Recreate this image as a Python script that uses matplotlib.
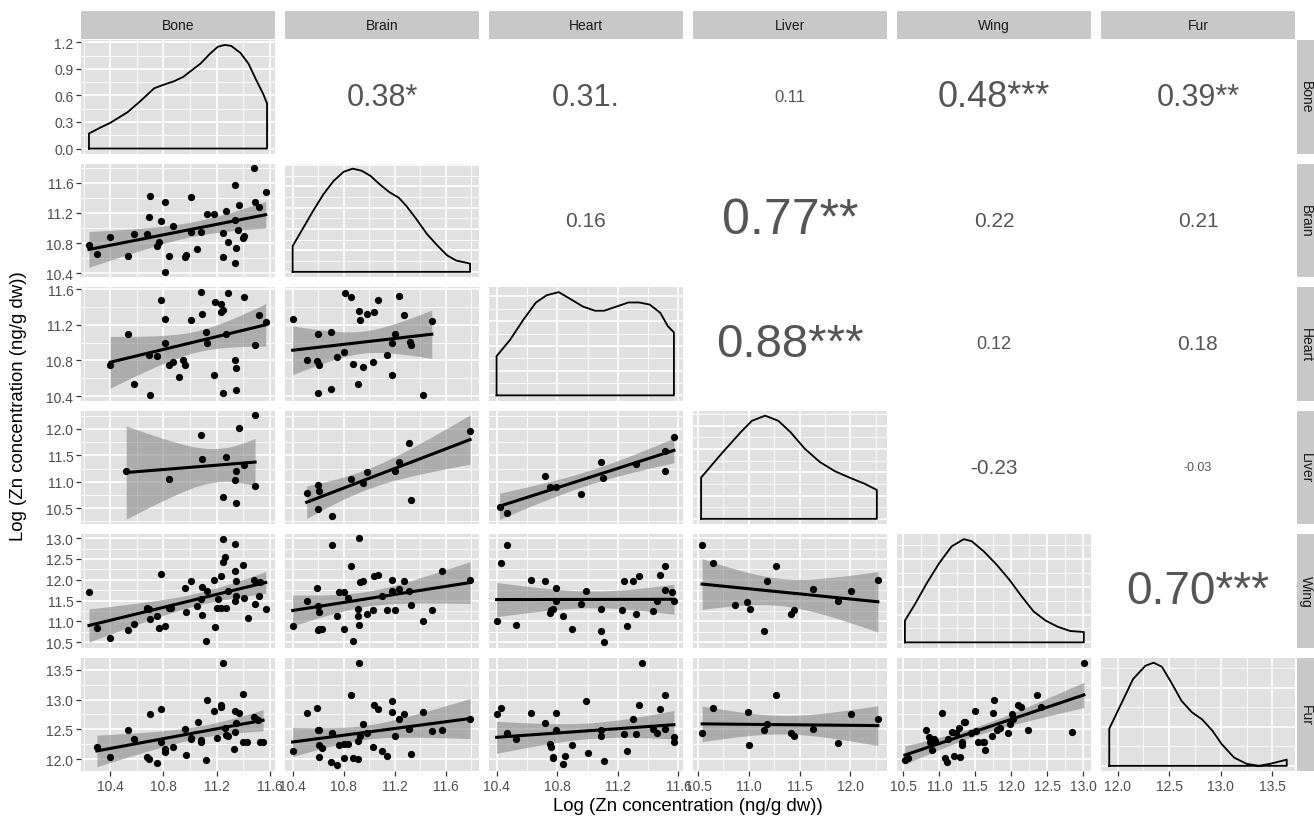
import numpy as np
import matplotlib
matplotlib.use('Agg')
import matplotlib.pyplot as plt
from matplotlib.ticker import MaxNLocator

plt.rcParams['font.family'] = ['Liberation Sans', 'DejaVu Sans']

# ---------------- data ----------------
variables = ['Bone', 'Brain', 'Heart', 'Liver', 'Wing', 'Fur']
axis_title = 'Log (Zn concentration (ng/g dw))'

# scatter panels: x = column variable, y = row variable
brain_bone_x = [10.24, 10.30, 10.40, 10.53, 10.58, 10.68, 10.70, 10.69, 10.75, 10.77, 10.78, 10.81, 10.81, 10.84,
                10.87, 10.96, 10.97, 11.01, 11.01, 11.05, 11.08, 11.13, 11.18, 11.25, 11.25, 11.27, 11.29, 11.34,
                11.34, 11.35, 11.34, 11.36, 11.37, 11.40, 11.41, 11.48, 11.49, 11.52, 11.57]
brain_bone_y = [10.77, 10.65, 10.88, 10.63, 10.92, 10.92, 11.42, 11.14, 10.76, 10.82, 11.09, 11.34, 10.42, 10.63,
                11.03, 10.62, 10.64, 11.41, 10.95, 10.72, 10.95, 11.19, 11.19, 10.62, 10.93, 11.22, 10.82, 11.57,
                11.11, 10.74, 10.53, 10.97, 11.31, 10.87, 10.89, 11.80, 11.34, 11.28, 11.48]

heart_bone_x = [10.40, 10.53, 10.58, 10.70, 10.69, 10.75, 10.78, 10.81, 10.81, 10.84, 10.87, 10.95, 10.96, 10.92,
                11.01, 11.08, 11.09, 11.12, 11.13, 11.18, 11.19, 11.23, 11.23, 11.25, 11.25, 11.27, 11.29, 11.34,
                11.35, 11.35, 11.41, 11.49, 11.52, 11.57]
heart_bone_y = [10.75, 11.10, 10.54, 10.41, 10.86, 10.85, 11.48, 11.26, 11.00, 10.75, 10.78, 10.80, 10.75, 10.61,
                11.25, 11.57, 11.32, 11.12, 11.00, 10.64, 11.46, 11.43, 11.34, 11.37, 10.43, 11.10, 11.56, 10.80,
                10.72, 10.47, 11.51, 10.97, 11.31, 11.23]

liver_bone_x = [10.52, 10.84, 11.08, 11.09, 11.27, 11.25, 11.35, 11.34, 11.37, 11.41, 11.35, 11.49, 11.49]
liver_bone_y = [11.20, 11.06, 11.89, 11.43, 11.46, 10.71, 11.21, 11.04, 12.02, 11.32, 10.60, 12.27, 10.92]

wing_bone_x = [10.24, 10.30, 10.40, 10.53, 10.58, 10.68, 10.69, 10.70, 10.75, 10.77, 10.78, 10.81, 10.84, 10.86,
               10.96, 10.97, 11.01, 11.05, 11.08, 11.09, 11.09, 11.12, 11.13, 11.18, 11.19, 11.20, 11.21, 11.23,
               11.23, 11.25, 11.25, 11.26, 11.27, 11.29, 11.34, 11.34, 11.35, 11.34, 11.35, 11.40, 11.41, 11.44,
               11.48, 11.49, 11.52, 11.53, 11.57]
wing_bone_y = [11.70, 10.85, 10.61, 10.80, 10.94, 11.32, 11.30, 11.06, 11.14, 10.85, 12.13, 10.90, 11.32, 11.32,
               11.80, 11.22, 11.96, 11.37, 11.54, 11.82, 11.16, 10.54, 11.73, 12.00, 10.86, 11.32, 11.53, 12.09,
               11.33, 12.98, 12.42, 12.54, 11.33, 11.74, 12.85, 12.22, 11.97, 11.48, 11.62, 12.36, 11.57, 11.08,
               12.00, 11.42, 11.62, 11.94, 11.30]

fur_bone_x = [10.30, 10.40, 10.53, 10.58, 10.68, 10.69, 10.70, 10.75, 10.78, 10.78, 10.81, 10.81, 10.87, 10.96,
              10.97, 11.01, 11.01, 11.08, 11.08, 11.06, 11.12, 11.13, 11.18, 11.20, 11.23, 11.23, 11.25, 11.26,
              11.27, 11.29, 11.33, 11.34, 11.35, 11.34, 11.37, 11.40, 11.40, 11.43, 11.48, 11.50, 11.53, 11.55,
              11.51]
fur_bone_y = [12.21, 12.03, 12.49, 12.33, 12.03, 12.00, 12.76, 11.93, 12.84, 12.28, 12.12, 12.17, 12.21, 12.50,
              12.07, 12.35, 12.34, 12.28, 12.32, 12.62, 11.98, 12.99, 12.80, 12.35, 12.91, 12.88, 13.62, 12.52,
              12.40, 12.38, 12.17, 12.80, 12.60, 12.45, 12.77, 13.10, 12.28, 12.28, 12.70, 12.67, 12.28, 12.28,
              12.65]

heart_brain_x = [10.40, 10.51, 10.59, 10.60, 10.61, 10.60, 10.70, 10.70, 10.75, 10.80, 10.81, 10.86, 10.87, 10.91,
                 10.92, 10.93, 10.95, 10.98, 11.03, 11.04, 11.07, 11.14, 11.18, 11.18, 11.20, 11.23, 11.27, 11.32,
                 11.33, 11.42, 11.49]
heart_brain_y = [11.26, 10.80, 10.79, 11.10, 10.75, 10.43, 11.12, 10.48, 10.84, 10.90, 11.56, 11.51, 10.76, 10.54,
                 11.36, 11.25, 10.73, 11.32, 10.78, 11.34, 11.48, 10.86, 10.64, 11.00, 11.10, 11.52, 11.31, 11.01,
                 10.97, 10.41, 11.24]

liver_brain_x = [10.51, 10.60, 10.61, 10.60, 10.71, 10.86, 10.95, 10.98, 11.20, 11.23, 11.31, 11.33, 11.79]
liver_brain_y = [10.79, 10.94, 10.82, 10.48, 10.36, 11.06, 10.98, 11.18, 11.21, 11.38, 11.74, 10.66, 11.97]

wing_brain_x = [10.40, 10.51, 10.59, 10.60, 10.61, 10.60, 10.61, 10.63, 10.71, 10.75, 10.76, 10.80, 10.80, 10.83,
                10.86, 10.87, 10.91, 10.91, 10.92, 10.92, 10.93, 10.95, 10.98, 11.03, 11.04, 11.07, 11.10, 11.14,
                11.18, 11.18, 11.20, 11.23, 11.27, 11.31, 11.33, 11.42, 11.49, 11.57, 11.79]
wing_brain_y = [10.88, 11.48, 11.80, 11.36, 11.22, 10.80, 10.82, 10.82, 12.84, 11.12, 11.70, 11.70, 10.82, 11.56,
                12.34, 10.54, 11.30, 11.12, 13.00, 10.92, 11.94, 11.96, 11.18, 11.28, 12.08, 12.12, 11.62, 11.28,
                12.00, 11.72, 11.28, 11.78, 11.96, 11.72, 11.40, 11.02, 11.28, 12.22, 12.00]

fur_brain_x = [10.40, 10.51, 10.59, 10.60, 10.61, 10.61, 10.63, 10.61, 10.70, 10.71, 10.75, 10.76, 10.80, 10.80,
               10.83, 10.86, 10.87, 10.91, 10.91, 10.92, 10.93, 10.95, 10.98, 11.03, 11.04, 11.07, 11.10, 11.14,
               11.18, 11.18, 11.20, 11.23, 11.27, 11.31, 11.33, 11.42, 11.49, 11.57, 11.79]
fur_brain_y = [12.14, 12.77, 12.86, 12.49, 12.48, 12.24, 12.19, 12.04, 11.95, 12.44, 11.90, 12.24, 12.25, 12.01,
               12.25, 13.08, 12.01, 12.00, 12.30, 13.62, 12.39, 12.59, 12.44, 12.20, 12.90, 12.84, 12.14, 12.06,
               12.98, 12.79, 12.39, 12.67, 12.76, 12.51, 12.09, 12.79, 12.47, 12.48, 12.67]

liver_heart_x = [10.42, 10.47, 10.72, 10.75, 10.79, 10.96, 11.09, 11.10, 11.32, 11.51, 11.51, 11.57]
liver_heart_y = [10.53, 10.41, 11.10, 10.91, 10.91, 10.76, 11.38, 11.07, 11.34, 11.20, 11.59, 11.84]

wing_heart_x = [10.40, 10.43, 10.47, 10.53, 10.63, 10.72, 10.75, 10.76, 10.77, 10.79, 10.79, 10.84, 10.90, 10.96,
                10.99, 11.09, 11.09, 11.11, 11.23, 11.24, 11.26, 11.30, 11.32, 11.34, 11.43, 11.46, 11.48, 11.51,
                11.51, 11.56, 11.57]
wing_heart_y = [11.02, 12.41, 12.84, 10.92, 12.00, 11.97, 11.20, 11.28, 11.30, 11.80, 11.48, 11.12, 10.82, 11.42,
                11.74, 11.30, 10.78, 10.50, 11.28, 11.96, 10.88, 11.97, 11.18, 12.08, 11.26, 11.48, 12.12, 12.34,
                11.76, 11.70, 11.50]

fur_heart_x = [10.40, 10.43, 10.47, 10.53, 10.63, 10.72, 10.75, 10.76, 10.77, 10.77, 10.79, 10.79, 10.84, 10.85,
               10.90, 10.99, 11.00, 11.09, 11.09, 11.11, 11.24, 11.26, 11.30, 11.32, 11.34, 11.36, 11.43, 11.46,
               11.48, 11.51, 11.51, 11.57, 11.57]
fur_heart_y = [12.75, 12.86, 12.44, 12.33, 12.77, 12.60, 12.25, 12.20, 12.04, 12.01, 12.77, 12.49, 11.91, 12.06,
               12.24, 12.98, 12.10, 12.49, 12.39, 11.96, 12.42, 12.14, 12.67, 12.42, 12.90, 13.62, 12.51, 12.43,
               12.84, 13.08, 12.51, 12.37, 12.28]

wing_liver_x = [10.54, 10.65, 10.86, 10.98, 11.01, 11.15, 11.18, 11.27, 11.41, 11.44, 11.63, 11.88, 12.01, 12.27]
wing_liver_y = [12.84, 12.41, 11.40, 11.46, 11.30, 10.78, 11.96, 12.34, 11.18, 11.28, 11.77, 11.50, 11.72, 12.00]

fur_liver_x = [10.54, 10.65, 10.99, 11.00, 11.15, 11.18, 11.27, 11.41, 11.44, 11.63, 11.88, 12.01, 12.27]
fur_liver_y = [12.43, 12.86, 12.79, 12.24, 12.48, 12.59, 13.08, 12.43, 12.39, 12.51, 12.27, 12.76, 12.68]

fur_wing_x = [10.52, 10.57, 10.81, 10.86, 10.87, 10.90, 10.93, 10.94, 11.04, 11.08, 11.11, 11.12, 11.18, 11.21,
              11.23, 11.27, 11.28, 11.31, 11.32, 11.34, 11.36, 11.44, 11.49, 11.51, 11.54, 11.60, 11.62, 11.64,
              11.73, 11.74, 11.76, 11.80, 11.85, 11.95, 11.98, 12.01, 12.02, 12.09, 12.14, 12.24, 12.36, 12.42,
              12.85, 13.01]
fur_wing_y = [11.99, 12.01, 12.49, 12.37, 12.28, 12.16, 12.33, 12.30, 12.77, 12.01, 11.95, 12.33, 12.46, 12.06,
              12.44, 12.52, 12.03, 12.23, 12.28, 12.62, 12.63, 12.44, 12.80, 12.47, 12.28, 12.28, 12.28, 12.16,
              12.38, 12.77, 12.99, 12.49, 12.52, 12.44, 12.59, 12.76, 12.67, 12.91, 12.87, 12.49, 13.08, 12.87,
              12.45, 13.62]

# diagonal density curves (heights for non-first rows are relative)
bone_dens_x = [10.24, 10.33, 10.40, 10.53, 10.63, 10.73, 10.80, 10.88, 10.95, 11.01, 11.08, 11.15, 11.21, 11.26,
               11.31, 11.38, 11.44, 11.50, 11.55, 11.58]
bone_dens_y = [0.17, 0.24, 0.29, 0.41, 0.54, 0.68, 0.72, 0.76, 0.81, 0.88, 0.96, 1.07, 1.15, 1.17, 1.16, 1.08,
               0.96, 0.77, 0.62, 0.51]
brain_dens_x = [10.40, 10.48, 10.56, 10.64, 10.72, 10.80, 10.87, 10.94, 11.01, 11.08, 11.16, 11.23, 11.29, 11.37,
                11.45, 11.53, 11.61, 11.68, 11.79]
brain_dens_y = [0.25, 0.42, 0.59, 0.75, 0.88, 0.97, 1.00, 0.98, 0.93, 0.85, 0.77, 0.72, 0.64, 0.51, 0.37, 0.26,
                0.16, 0.11, 0.08]
heart_dens_x = [10.40, 10.49, 10.58, 10.66, 10.73, 10.81, 10.88, 10.97, 11.05, 11.11, 11.19, 11.27, 11.34, 11.41,
                11.48, 11.53, 11.57]
heart_dens_y = [0.38, 0.54, 0.74, 0.90, 0.97, 1.00, 0.94, 0.86, 0.82, 0.82, 0.86, 0.90, 0.90, 0.88, 0.80, 0.67,
                0.61]
liver_dens_x = [10.53, 10.72, 10.92, 11.03, 11.16, 11.29, 11.41, 11.55, 11.70, 11.85, 11.99, 12.14, 12.26]
liver_dens_y = [0.40, 0.62, 0.84, 0.95, 1.00, 0.95, 0.84, 0.68, 0.55, 0.46, 0.40, 0.34, 0.28]
wing_dens_x = [10.52, 10.66, 10.83, 11.00, 11.17, 11.34, 11.45, 11.62, 11.80, 11.97, 12.14, 12.31, 12.48, 12.65,
               12.82, 13.01]
wing_dens_y = [0.21, 0.37, 0.58, 0.77, 0.93, 1.00, 0.98, 0.88, 0.75, 0.61, 0.45, 0.30, 0.21, 0.15, 0.11, 0.10]
fur_dens_x = [11.92, 12.04, 12.15, 12.27, 12.35, 12.43, 12.52, 12.62, 12.72, 12.82, 12.92, 13.01, 13.13, 13.25,
              13.37, 13.48, 13.64]
fur_dens_y = [0.36, 0.61, 0.84, 0.97, 1.00, 0.96, 0.81, 0.63, 0.52, 0.45, 0.34, 0.21, 0.08, 0.02, 0.00, 0.02,
              0.06]

# correlation labels, upper triangle (row, col)
corr_labels = {(0, 1): '0.38*', (0, 2): '0.31.', (0, 3): '0.11', (0, 4): '0.48***', (0, 5): '0.39**',
               (1, 2): '0.16', (1, 3): '0.77**', (1, 4): '0.22', (1, 5): '0.21',
               (2, 3): '0.88***', (2, 4): '0.12', (2, 5): '0.18',
               (3, 4): '-0.23', (3, 5): '-0.03',
               (4, 5): '0.70***'}

# tick values
bone_ticks = [10.4, 10.8, 11.2, 11.6]
brain_ticks = [10.4, 10.8, 11.2, 11.6]
heart_ticks = [10.4, 10.8, 11.2, 11.6]
liver_ticks = [10.5, 11.0, 11.5, 12.0]
wing_ticks = [10.5, 11.0, 11.5, 12.0, 12.5, 13.0]
fur_ticks = [12.0, 12.5, 13.0, 13.5]
density_ticks = [0.0, 0.3, 0.6, 0.9, 1.2]

# ---------------- styles / layout ----------------
corr_sizes = {(0, 1): 22, (0, 2): 22, (0, 3): 12, (0, 4): 26, (0, 5): 22,
              (1, 2): 15, (1, 3): 36, (1, 4): 15, (1, 5): 15,
              (2, 3): 34, (2, 4): 13, (2, 5): 15,
              (3, 4): 15, (3, 5): 9,
              (4, 5): 33}

scatter = {
    (1, 0): (brain_bone_x, brain_bone_y),
    (2, 0): (heart_bone_x, heart_bone_y), (2, 1): (heart_brain_x, heart_brain_y),
    (3, 0): (liver_bone_x, liver_bone_y), (3, 1): (liver_brain_x, liver_brain_y),
    (3, 2): (liver_heart_x, liver_heart_y),
    (4, 0): (wing_bone_x, wing_bone_y), (4, 1): (wing_brain_x, wing_brain_y),
    (4, 2): (wing_heart_x, wing_heart_y), (4, 3): (wing_liver_x, wing_liver_y),
    (5, 0): (fur_bone_x, fur_bone_y), (5, 1): (fur_brain_x, fur_brain_y),
    (5, 2): (fur_heart_x, fur_heart_y), (5, 3): (fur_liver_x, fur_liver_y),
    (5, 4): (fur_wing_x, fur_wing_y),
}
dens = [(bone_dens_x, bone_dens_y), (brain_dens_x, brain_dens_y), (heart_dens_x, heart_dens_y),
        (liver_dens_x, liver_dens_y), (wing_dens_x, wing_dens_y), (fur_dens_x, fur_dens_y)]

var_ticks = [bone_ticks, brain_ticks, heart_ticks, liver_ticks, wing_ticks, fur_ticks]
col_xlim = [(10.18, 11.64), (10.34, 11.86), (10.35, 11.63), (10.45, 12.36), (10.41, 13.11), (11.84, 13.72)]
row_ylim = [(-0.056, 1.226), (10.35, 11.855), (10.35, 11.625), (10.2, 12.35), (10.375, 13.10), (11.80, 13.705)]

W, H = 1314, 820
fig = plt.figure(figsize=(W / 100, H / 100), dpi=100)
fig.patch.set_facecolor('white')

col_left = [81, 285, 489, 693, 897, 1101]
pw = 194
row_top = [41, 164.5, 288, 411.5, 535, 658.5]
ph = 113.5

PANEL_BG = '#E1E1E1'
STRIP_BG = '#C8C8C8'
TICK_COL = '#4D4D4D'
TEXT_COL = '#555555'


def ax_at(x, y, w, h):
    return fig.add_axes([x / W, 1 - (y + h) / H, w / W, h / H])


def minors(ticks, lim):
    step = ticks[1] - ticks[0]
    cand = [ticks[0] - step / 2] + [t + step / 2 for t in ticks]
    return [c for c in cand if lim[0] <= c <= lim[1]]


def style(ax, xl, yl, xt, yt):
    ax.set_facecolor(PANEL_BG)
    ax.set_xlim(xl)
    ax.set_ylim(yl)
    for s in ax.spines.values():
        s.set_visible(False)
    ax.set_xticks(xt)
    ax.set_yticks(yt)
    ax.set_xticks(minors(xt, xl), minor=True)
    ax.set_yticks(minors(yt, yl), minor=True)
    ax.grid(which='major', color='white', lw=1.2)
    ax.grid(which='minor', color='white', lw=0.6)
    ax.set_axisbelow(True)
    ax.tick_params(which='both', length=0, labelbottom=False, labelleft=False)


def tcrit(df):
    z = 1.959964
    return z + (z ** 3 + z) / (4 * df) + (5 * z ** 5 + 16 * z ** 3 + 3 * z) / (96 * df ** 2)


axes = {}
for i in range(6):
    for j in range(6):
        ax = ax_at(col_left[j], row_top[i], pw, ph)
        axes[(i, j)] = ax
        if j > i:
            ax.set_axis_off()
            ax.set_xlim(0, 1)
            ax.set_ylim(0, 1)
            ax.text(0.5, 0.5, corr_labels[(i, j)], ha='center', va='center',
                    fontsize=corr_sizes[(i, j)], color=TEXT_COL)
            continue
        xl = col_xlim[j]
        if i == j:
            dx = np.array(dens[i][0])
            dy = np.array(dens[i][1])
            if i == 0:
                yl = row_ylim[0]
                yt = density_ticks
            else:
                dy = dy / np.trapezoid(dy, dx)
                top = dy.max()
                yl = (-0.05 * top, 1.05 * top)
                yt = [t for t in MaxNLocator(nbins=5, steps=[1, 2, 2.5, 5, 10]).tick_values(0, top)
                      if yl[0] <= t <= yl[1]]
            style(ax, xl, yl, var_ticks[j], yt)
            px = np.r_[dx[0], dx, dx[-1], dx[0]]
            py = np.r_[0, dy, 0, 0]
            ax.plot(px, py, color='black', lw=1.3, solid_joinstyle='round')
        else:
            yl = row_ylim[i]
            style(ax, xl, yl, var_ticks[j], var_ticks[i])
            x = np.array(scatter[(i, j)][0])
            y = np.array(scatter[(i, j)][1])
            n = len(x)
            b, a = np.polyfit(x, y, 1)
            xs = np.linspace(x.min(), x.max(), 80)
            resid = y - (a + b * x)
            s = np.sqrt(np.sum(resid ** 2) / (n - 2))
            sxx = np.sum((x - x.mean()) ** 2)
            se = s * np.sqrt(1 / n + (xs - x.mean()) ** 2 / sxx)
            fit = a + b * xs
            t = tcrit(n - 2)
            ax.fill_between(xs, fit - t * se, fit + t * se, color='#8A8A8A', alpha=0.6, lw=0, zorder=2)
            ax.scatter(x, y, s=27, color='black', lw=0, zorder=3)
            ax.plot(xs, fit, color='black', lw=2.2, zorder=4)

# outer axis labels
for j in range(6):
    ax = axes[(5, j)]
    ax.tick_params(axis='x', which='major', length=3.5, width=0.9, color='#333333',
                   labelbottom=True, labelsize=10, labelcolor=TICK_COL, pad=2)
    ax.set_xticklabels(['%.1f' % v for v in var_ticks[j]])
for i in range(6):
    ax = axes[(i, 0)]
    ax.tick_params(axis='y', which='major', length=3.5, width=0.9, color='#333333',
                   labelleft=True, labelsize=10, labelcolor=TICK_COL, pad=2)
    if i == 0:
        ax.set_yticklabels(['%.1f' % v for v in density_ticks])
    else:
        ax.set_yticklabels(['%.1f' % v for v in var_ticks[i]])

# strips
for j, name in enumerate(variables):
    sa = ax_at(col_left[j], 12, pw, 27.5)
    sa.set_facecolor(STRIP_BG)
    sa.set_xticks([]); sa.set_yticks([])
    for s in sa.spines.values():
        s.set_visible(False)
    sa.text(0.5, 0.5, name, ha='center', va='center', fontsize=10, color='#1A1A1A', transform=sa.transAxes)
for i, name in enumerate(variables):
    sa = ax_at(1297, row_top[i], 21, ph)
    sa.set_facecolor(STRIP_BG)
    sa.set_xticks([]); sa.set_yticks([])
    for s in sa.spines.values():
        s.set_visible(False)
    fig.text(1305.5 / W, 1 - (row_top[i] + ph / 2) / H, name, ha='center', va='center', rotation=-90,
             fontsize=10, color='#1A1A1A')

fig.text(688 / W, 1 - 807 / H, axis_title, ha='center', va='center', fontsize=13.4, color='black')
fig.text(19 / W, 1 - 406 / H, axis_title, ha='center', va='center', rotation=90, fontsize=13.4, color='black')

fig.savefig('out.png', dpi=100, facecolor='white')
